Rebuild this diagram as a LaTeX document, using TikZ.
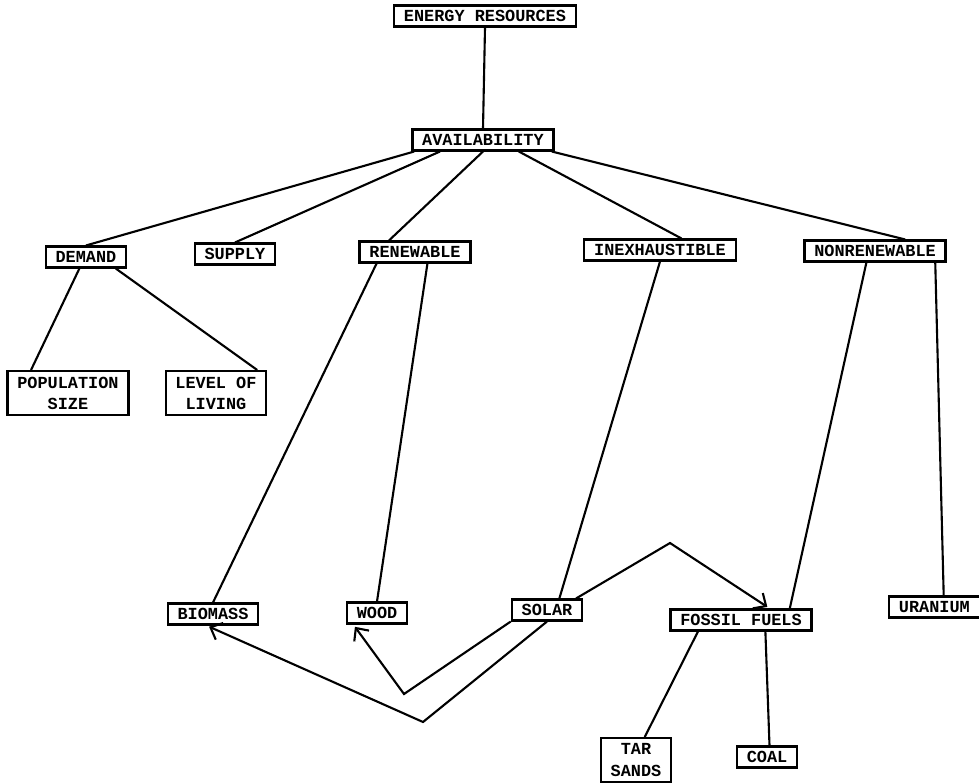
\documentclass[tikz,border=0pt]{standalone}
\usepackage{fontspec}
\setmonofont{Liberation Mono}
\usetikzlibrary{
    arrows.meta,
    positioning,
    calc
}
\tikzset{
    % Boxes
    box/.style={draw,line width=1.6pt,fill=white,inner xsep=7pt,inner ysep=2pt,
        minimum height=0.52cm,font=\ttfamily\bfseries\fontsize{12}{15}\selectfont},
    twoline/.style={box,align=center,inner xsep=7pt,inner ysep=4pt},
    %
    % Lines and arrows
    link/.style={line width=1.5pt},
    arrow tip/.tip={Straight Barb[length=7pt,width=13pt,line width=1.5pt]},
    arr/.style={link,->,>={arrow tip},shorten >=2pt}
}

\begin{document}
\begin{tikzpicture}[x=0.025cm,y=-0.025cm]
    \useasboundingbox (0,0) rectangle (979,782);

    % top of the tree
    \node[box] (energy) at (485,16) {ENERGY RESOURCES};
    \node[box] (avail) at (483,140) {AVAILABILITY};

    % second row
    \node[box] (demand) at (86,257) {DEMAND};
    \node[box] (supply) at (235,254) {SUPPLY};
    \node[box] (renew) at (415,252) {RENEWABLE};
    \node[box] (inexh) at (660,250) {INEXHAUSTIBLE};
    \node[box] (nonrenew) at (875,251) {NONRENEWABLE};

    % demand side
    \node[twoline] (popsize) at (68,393) {POPULATION\\SIZE};
    \node[twoline] (living) at (216,393) {LEVEL OF\\LIVING};

    % sources
    \node[box] (biomass) at (213,614) {BIOMASS};
    \node[box] (wood) at (377,613) {WOOD};
    \node[box] (solar) at (547,610) {SOLAR};
    \node[box] (fossil) at (741,620) {FOSSIL FUELS};
    \node[box,anchor=west] (uranium) at (888,607) {URANIUM};
    \node[twoline] (tarsands) at (636,760) {TAR\\SANDS};
    \node[box] (coal) at (767,757) {COAL};

    % tree lines
    \draw[link] (energy.south) -- (avail.north);
    \draw[link] ($(avail.south west)!0.02!(avail.south east)$) -- (demand.north);
    \draw[link] ($(avail.south west)!0.2!(avail.south east)$) -- (supply.north);
    \draw[link] (avail.south) -- ($(renew.north west)!0.27!(renew.north east)$);
    \draw[link] ($(avail.south west)!0.75!(avail.south east)$) -- ($(inexh.north west)!0.64!(inexh.north east)$);
    \draw[link] ($(avail.south west)!0.98!(avail.south east)$) -- ($(nonrenew.north west)!0.71!(nonrenew.north east)$);

    \draw[link] ($(demand.south west)!0.42!(demand.south east)$) -- ($(popsize.north west)!0.2!(popsize.north east)$);
    \draw[link] ($(demand.south west)!0.86!(demand.south east)$) -- ($(living.north west)!0.9!(living.north east)$);

    \draw[link] ($(renew.south west)!0.16!(renew.south east)$) -- (biomass.north);
    \draw[link] ($(renew.south west)!0.61!(renew.south east)$) -- (wood.north);
    \draw[link] (inexh.south) -- ($(solar.north west)!0.67!(solar.north east)$);
    \draw[link] ($(nonrenew.south west)!0.44!(nonrenew.south east)$) -- ($(fossil.north west)!0.84!(fossil.north east)$);
    \draw[link] ($(nonrenew.south west)!0.92!(nonrenew.south east)$) -- ($(uranium.north west)!0.6!(uranium.north east)$);

    \draw[link] ($(fossil.south west)!0.2!(fossil.south east)$) -- ($(tarsands.north west)!0.62!(tarsands.north east)$);
    \draw[link] ($(fossil.south west)!0.67!(fossil.south east)$) -- ($(coal.north west)!0.54!(coal.north east)$);

    % solar arrows
    \coordinate (peak) at (670,543);
    \coordinate (bendwood) at (404,694);
    \coordinate (bendbio) at (423,722);
    \draw[arr] ($(solar.north east)!0.1!(solar.north west)$) -- (peak) -- ($(fossil.north west)!0.7!(fossil.north east)$);
    \draw[arr] (solar.south west) -- (bendwood) -- ($(wood.south west)!0.12!(wood.south east)$);
    \draw[arr] (solar.south) -- (bendbio) -- ($(biomass.south west)!0.43!(biomass.south east)$);
\end{tikzpicture}
\end{document}
